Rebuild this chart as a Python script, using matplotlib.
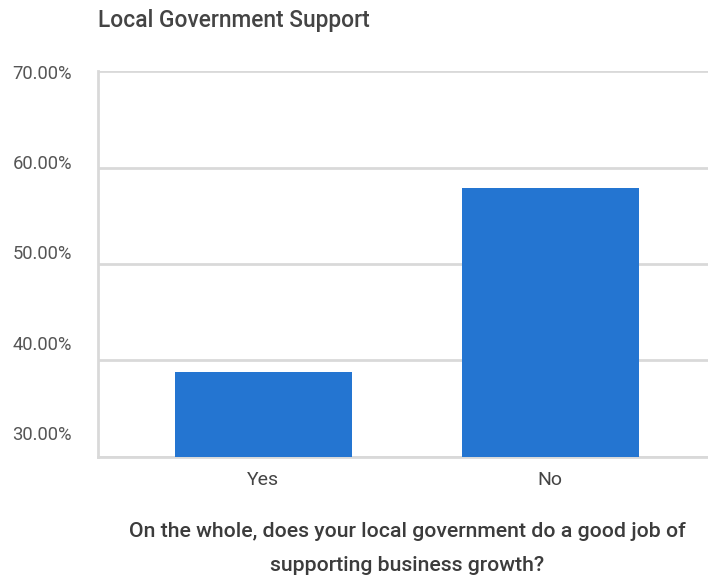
import matplotlib.pyplot as plt
import numpy as np

plt.rcParams['font.family'] = ['Roboto', 'DejaVu Sans']

answers = ["Yes", "No"]
shares = [38.8, 57.9]
ticks = [30, 40, 50, 60, 70]
tick_labels = ["30.00%", "40.00%", "50.00%", "60.00%", "70.00%"]

bar_color = "#2475d1"
grid_color = "#d9d9d9"

fig = plt.figure(figsize=(7.08, 5.76), dpi=100)
ax = fig.add_axes([98 / 708, 1 - 456.7 / 576, 1 - 98 / 708, (456.7 - 71.3) / 576])

x = np.arange(len(answers))
ax.bar(x, shares, width=0.617, color=bar_color, zorder=3)

ax.set_xlim(-0.575, 1.55)
ax.set_ylim(30, 70)
ax.set_yticks(ticks)
ax.yaxis.grid(True, color=grid_color, linewidth=2, zorder=0)
ax.set_xticks(x)
ax.set_xticklabels(answers, fontsize=14, color="#444444")
ax.tick_params(axis='x', length=0, pad=10)

for side in ["top", "right"]:
    ax.spines[side].set_visible(False)
for side in ["left", "bottom"]:
    ax.spines[side].set_color(grid_color)
    ax.spines[side].set_linewidth(2)

# labels sit on a slightly compressed scale, like the sheets export
lab = ax.twinx()
lab.yaxis.set_label_position("left")
lab.yaxis.tick_left()
lab.set_ylim(27.37, 70.08)
lab.set_yticks(ticks)
lab.set_yticklabels(tick_labels, fontsize=13.2, color="#555555")
lab.tick_params(axis='y', length=0, pad=18.7)
for s in lab.spines.values():
    s.set_visible(False)
lab.set_xlim(ax.get_xlim())
ax.tick_params(axis='y', left=False, right=False, labelleft=False, length=0)

fig.text(98 / 708, 1 - 20 / 576, "Local Government Support", fontsize=16.4,
         fontweight="medium", color="#444444", va="center", ha="left")
fig.text(407 / 708, 1 - 548.5 / 576,
         "On the whole, does your local government do a good job of\nsupporting business growth?",
         fontsize=15.3, fontweight="medium", color="#3c3c3c", ha="center", va="center",
         linespacing=1.95)

fig.savefig("out.png", dpi=100)
